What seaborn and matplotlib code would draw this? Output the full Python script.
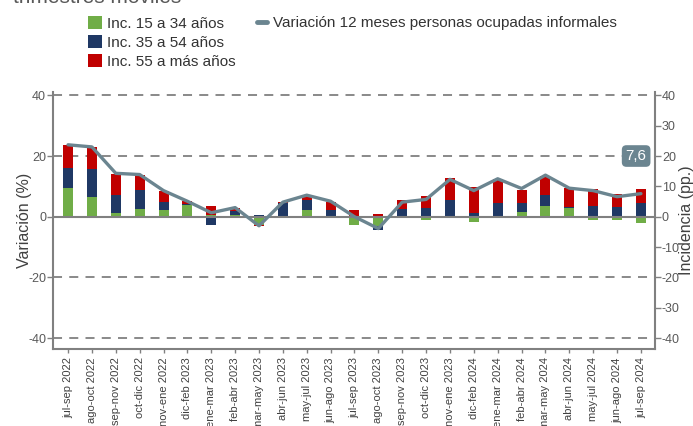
import numpy as np
import matplotlib
matplotlib.use("Agg")
import matplotlib.pyplot as plt
import seaborn as sns
from matplotlib.patches import Patch
from matplotlib.lines import Line2D

# Datos: trimestres móviles
periodos = ["jul-sep 2022", "ago-oct 2022", "sep-nov 2022", "oct-dic 2022", "nov-ene 2022",
            "dic-feb 2023", "ene-mar 2023", "feb-abr 2023", "mar-may 2023", "abr-jun 2023",
            "may-jul 2023", "jun-ago 2023", "jul-sep 2023", "ago-oct 2023", "sep-nov 2023",
            "oct-dic 2023", "nov-ene 2023", "dic-feb 2024", "ene-mar 2024", "feb-abr 2024",
            "mar-may 2024", "abr-jun 2024", "may-jul 2024", "jun-ago 2024", "jul-sep 2024"]

inc_15_34 = [9.5, 6.5, 1.2, 2.6, 2.3, 3.9, 0.4, 0.6, -2.6, 0.1, 2.1, 0.1, -2.7,
             -3.0, -0.5, -1.2, -0.4, -1.8, 0.1, 1.5, 3.6, 3.0, -1.0, -1.2, -2.0]
inc_35_54 = [6.4, 9.1, 6.1, 6.1, 2.5, 0.2, -2.7, 1.3, 0.4, 4.5, 3.3, 2.0, 0.3,
             -1.3, 2.4, 3.0, 5.4, 1.3, 4.5, 2.9, 3.6, 0.1, 3.6, 3.2, 4.6]
inc_55_mas = [7.6, 7.3, 6.8, 5.0, 3.6, 1.0, 3.1, 0.9, -0.6, 0.1, 1.3, 2.7, 1.8,
              1.0, 3.1, 3.7, 7.2, 8.5, 7.7, 4.4, 6.3, 6.3, 5.5, 4.2, 4.5]
variacion = [23.7, 23.0, 14.3, 13.9, 8.6, 5.1, 1.3, 3.0, -3.0, 4.8, 7.1, 5.1, 0.0,
             -3.9, 4.8, 5.7, 12.3, 8.6, 12.5, 9.3, 13.7, 9.4, 8.6, 6.6, 7.6]
ultimo = "7,6"

series = [("Inc. 15 a 34 años", inc_15_34, "#70ad47"),
          ("Inc. 35 a 54 años", inc_35_54, "#1f3864"),
          ("Inc. 55 a más años", inc_55_mas, "#c00000")]
color_linea = "#6b8590"
gris = "#808080"
texto = "#595959"

sns.set_theme(style="white")
plt.rcParams['font.family'] = ['Liberation Sans', 'DejaVu Sans']

fig = plt.figure(figsize=(6.93, 4.26), dpi=100)
ax = fig.add_axes([53 / 693, 1 - 349 / 426, 602 / 693, 257 / 426])

# Barras apiladas (positivas hacia arriba, negativas hacia abajo)
pos_base = np.zeros(len(periodos))
neg_base = np.zeros(len(periodos))
for nombre, vals, col in series:
    vals = np.array(vals)
    base = np.where(vals >= 0, pos_base, neg_base)
    sns.barplot(x=periodos, y=vals, bottom=base, color=col, saturation=1,
                width=0.42, linewidth=0, errorbar=None, ax=ax)
    pos_base = pos_base + np.clip(vals, 0, None)
    neg_base = neg_base + np.clip(vals, None, 0)

x = np.arange(len(periodos))
sns.lineplot(x=x, y=variacion, color=color_linea, linewidth=2.4, ax=ax, zorder=5)

# Líneas de referencia
for yv in [-40, -20, 20, 40]:
    ax.axhline(yv, color=gris, lw=1.3, ls=(0, (5, 4)), zorder=0)
ax.axhline(0, color=gris, lw=1.5, zorder=1)

ax.set_ylim(-43.6, 41.1)
ax.set_xlim(-0.63, 24.59)
ax.set_yticks([-40, -20, 0, 20, 40])
ax.set_yticklabels(["-40", "-20", "0", "20", "40"])
ax.set_xticks(x)
ax.set_xticklabels(periodos, rotation=90, fontsize=8, color="#404040")
ax.set_xlabel("")
ax.set_ylabel("Variación (%)", fontsize=11.5, color="#404040", labelpad=-3)
ax.tick_params(axis="y", labelsize=9, colors=texto, length=4, width=1, color=gris, pad=1,
               direction="out", left=True)
ax.tick_params(axis="x", length=3, width=1, color=gris, pad=3, bottom=True)

for s in ["top", "right"]:
    ax.spines[s].set_visible(False)
for s in ["left", "bottom"]:
    ax.spines[s].set_color(gris)
    ax.spines[s].set_linewidth(1.5)

# Eje derecho
ax2 = ax.twinx()
ax2.set_ylim(-43.6, 41.1)
ax2.set_yticks(np.arange(-40, 41, 10))
ax2.set_yticklabels([str(v) for v in range(-40, 41, 10)])
ax2.set_ylabel("Incidencia (pp.)", fontsize=11.5, color="#404040", labelpad=-1)
ax2.tick_params(axis="y", labelsize=9, colors=texto, length=4, width=1, color=gris, pad=1,
                direction="out", right=True)
ax2.grid(False)
for s in ["top", "left", "bottom"]:
    ax2.spines[s].set_visible(False)
ax2.spines["right"].set_color(gris)
ax2.spines["right"].set_linewidth(1.5)

# Etiqueta del último valor
ax.text(23.8, 20, ultimo, ha="center", va="center", fontsize=11,
        color="white", zorder=6,
        bbox=dict(boxstyle="round,pad=0.25,rounding_size=0.3", fc=color_linea, ec="none"))

# Título (recortado en la parte superior)
fig.text(13 / 693, 1 - 3 / 426, "trimestres móviles", fontsize=15, color=texto, va="baseline")

# Leyendas
handles_bar = [Patch(facecolor=c, edgecolor="none", label=n) for n, _, c in series]
fig.legend(handles=handles_bar, loc="upper left", bbox_to_anchor=(88 / 693, 1 - 16 / 426),
           frameon=False, fontsize=11, handlelength=0.9, handleheight=0.9,
           handletextpad=0.35, labelspacing=0.3, borderpad=0, borderaxespad=0,
           labelcolor="#333333")
handle_line = [Line2D([0], [0], color=color_linea, lw=3.5,
                      label="Variación 12 meses personas ocupadas informales")]
fig.legend(handles=handle_line, loc="upper left", bbox_to_anchor=(257 / 693, 1 - 16 / 426),
           frameon=False, fontsize=11, handlelength=0.65, handletextpad=0.4,
           borderpad=0, borderaxespad=0, labelcolor="#333333")

fig.savefig("out.png", dpi=100)
